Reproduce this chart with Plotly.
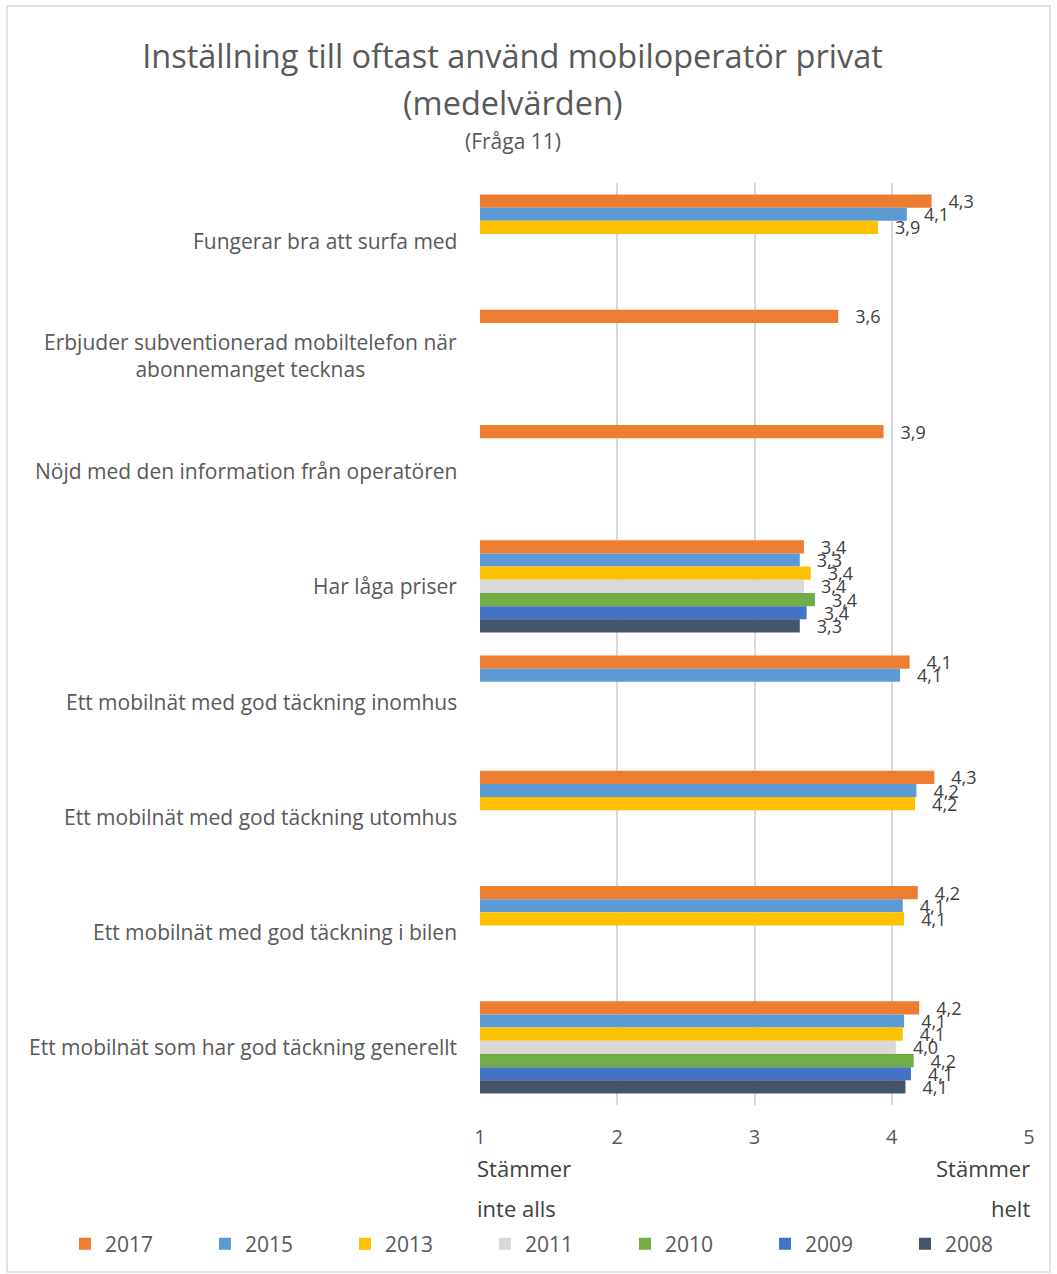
import plotly.graph_objects as go

categories = [
    "Fungerar bra att surfa med",
    "Erbjuder subventionerad mobiltelefon när<br>abonnemanget tecknas",
    "Nöjd med den information från operatören",
    "Har låga priser",
    "Ett mobilnät med god täckning inomhus",
    "Ett mobilnät med god täckning utomhus",
    "Ett mobilnät med god täckning i bilen",
    "Ett mobilnät som har god täckning generellt",
]

years = ["2017", "2015", "2013", "2011", "2010", "2009", "2008"]
colors = ["#ED7D31", "#5B9BD5", "#FFC000", "#D9D9D9", "#70AD47", "#4472C4", "#44546A"]

v2017 = [4.29, 3.61, 3.94, 3.36, 4.13, 4.31, 4.19, 4.20]
v2015 = [4.11, None, None, 3.33, 4.06, 4.18, 4.08, 4.09]
v2013 = [3.90, None, None, 3.41, None, 4.17, 4.09, 4.08]
v2011 = [None, None, None, 3.36, None, None, None, 4.03]
v2010 = [None, None, None, 3.44, None, None, None, 4.16]
v2009 = [None, None, None, 3.38, None, None, None, 4.14]
v2008 = [None, None, None, 3.33, None, None, None, 4.10]
series = [v2017, v2015, v2013, v2011, v2010, v2009, v2008]

xticks = [1, 2, 3, 4, 5]

FONT = "Open Sans"
GREY = "#595959"
DARK = "#404040"

W, H = 1057, 1274
L, R, T, B = 480, 28, 183, 169
PW, PH = W - L - R, H - T - B


def px(x):
    return (x - L) / PW


def py(y):
    return (H - B - y) / PH


fig = go.Figure()
for name, vals, col in zip(years, series, colors):
    fig.add_trace(go.Bar(
        y=categories, x=vals, name=name, orientation="h",
        marker=dict(color=col, line=dict(width=0)),
        texttemplate="\u00a0\u00a0\u00a0%{x:.1f}", textposition="outside",
        constraintext="none", cliponaxis=False,
        textfont=dict(family=FONT, size=18, color=DARK),
        hoverinfo="x+name",
    ))

annotations = []
for c in categories:
    annotations.append(dict(
        x=0, xref="paper", y=c, yref="y", xanchor="right", yanchor="middle",
        xshift=-21, text=c, showarrow=False, align="center",
        font=dict(family=FONT, size=21, color=GREY)))

annotations += [
    dict(x=px(512.5), y=py(102), xref="paper", yref="paper", text="(medelvärden)",
         showarrow=False, xanchor="center", yanchor="middle",
         font=dict(family=FONT, size=32.5, color=GREY)),
    dict(x=px(512.5), y=py(141), xref="paper", yref="paper", text="(Fråga 11)",
         showarrow=False, xanchor="center", yanchor="middle",
         font=dict(family=FONT, size=21, color=GREY)),
    dict(x=px(475), y=py(1168), xref="paper", yref="paper", text="Stämmer",
         showarrow=False, xanchor="left", yanchor="middle",
         font=dict(family=FONT, size=22, color=DARK)),
    dict(x=px(475), y=py(1208), xref="paper", yref="paper", text="inte alls",
         showarrow=False, xanchor="left", yanchor="middle",
         font=dict(family=FONT, size=22, color=DARK)),
    dict(x=px(1032), y=py(1168), xref="paper", yref="paper", text="Stämmer",
         showarrow=False, xanchor="right", yanchor="middle",
         font=dict(family=FONT, size=22, color=DARK)),
    dict(x=px(1032), y=py(1208), xref="paper", yref="paper", text="helt",
         showarrow=False, xanchor="right", yanchor="middle",
         font=dict(family=FONT, size=22, color=DARK)),
]

fig.update_layout(
    width=W, height=H,
    margin=dict(l=L, r=R, t=T, b=B, autoexpand=False),
    paper_bgcolor="white", plot_bgcolor="white",
    separators=", ",
    barmode="group", bargap=0.2, bargroupgap=0,
    title=dict(text="Inställning till oftast använd mobiloperatör privat",
               x=512.5 / W, xanchor="center", y=1 - 57 / H, yanchor="middle",
               font=dict(family=FONT, size=32.5, color=GREY)),
    xaxis=dict(range=[1, 5], tickvals=xticks, ticktext=[str(t) for t in xticks],
               showgrid=True, gridcolor="#D9D9D9", gridwidth=1.5,
               zeroline=False, showline=False,
               ticks="outside", ticklen=14, tickcolor="rgba(0,0,0,0)",
               tickfont=dict(family=FONT, size=20, color=GREY)),
    yaxis=dict(autorange="reversed", showticklabels=False, showgrid=False,
               zeroline=False, showline=False, ticks=""),
    legend=dict(orientation="h", x=px(65), y=py(1244), xanchor="left", yanchor="middle",
                entrywidth=95, entrywidthmode="pixels",
                font=dict(family=FONT, size=21, color=GREY), bgcolor="rgba(0,0,0,0)"),
    annotations=annotations,
    shapes=[dict(type="rect", xref="paper", yref="paper",
                 x0=px(7), x1=px(1050), y0=py(1272), y1=py(6),
                 line=dict(color="#D9D9D9", width=1.5), fillcolor="rgba(0,0,0,0)",
                 layer="below")],
    font=dict(family=FONT, color=GREY),
    showlegend=True,
)

fig.write_html(
    "out.html",
    config={"displayModeBar": False},
    post_script="document.body.style.margin='0px';document.body.style.overflow='hidden';",
)
